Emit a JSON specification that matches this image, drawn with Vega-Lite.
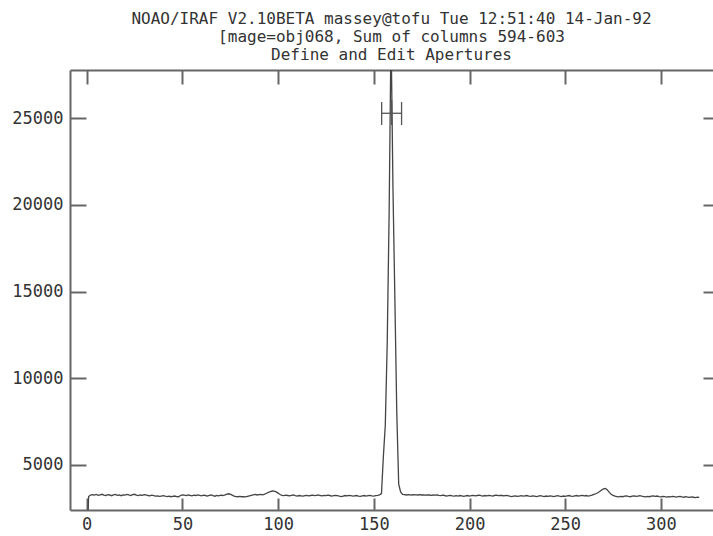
{
  "$schema": "https://vega.github.io/schema/vega-lite/v6.json",
  "width": 643,
  "height": 440,
  "autosize": "none",
  "padding": {"left": 70, "top": 70, "right": 0, "bottom": 26},
  "background": "white",
  "config": {
    "view": {"stroke": null},
    "font": "DejaVu Sans Mono",
    "axis": {
      "grid": false,
      "title": null,
      "domainColor": "#666",
      "domainWidth": 2,
      "tickColor": "#666",
      "tickWidth": 2,
      "labelFont": "DejaVu Sans Mono",
      "labelFontSize": 17,
      "labelColor": "#333",
      "labelOverlap": false,
      "labelFlush": false
    }
  },
  "title": {
    "text": ["NOAO/IRAF V2.10BETA massey@tofu Tue 12:51:40 14-Jan-92", "[mage=obj068, Sum of columns 594-603", "Define and Edit Apertures"],
    "anchor": "middle",
    "frame": "group",
    "font": "DejaVu Sans Mono",
    "fontSize": 16,
    "fontWeight": "normal",
    "color": "#333",
    "lineHeight": 18,
    "offset": 6
  },
  "datasets": {
    "spectrum": [
      {"pixel":0,"counts":0},{"pixel":1,"counts":3180},{"pixel":2,"counts":3270},{"pixel":3,"counts":3290},{"pixel":4,"counts":3260},{"pixel":5,"counts":3300},{"pixel":6,"counts":3250},{"pixel":7,"counts":3280},{"pixel":8,"counts":3310},{"pixel":9,"counts":3260},{"pixel":10,"counts":3240},
      {"pixel":11,"counts":3290},{"pixel":12,"counts":3270},{"pixel":13,"counts":3230},{"pixel":14,"counts":3280},{"pixel":15,"counts":3300},{"pixel":16,"counts":3250},{"pixel":17,"counts":3270},{"pixel":18,"counts":3230},{"pixel":19,"counts":3280},{"pixel":20,"counts":3260},
      {"pixel":21,"counts":3300},{"pixel":22,"counts":3270},{"pixel":23,"counts":3240},{"pixel":24,"counts":3290},{"pixel":25,"counts":3310},{"pixel":26,"counts":3260},{"pixel":27,"counts":3230},{"pixel":28,"counts":3270},{"pixel":29,"counts":3250},{"pixel":30,"counts":3290},
      {"pixel":31,"counts":3280},{"pixel":32,"counts":3240},{"pixel":33,"counts":3220},{"pixel":34,"counts":3260},{"pixel":35,"counts":3230},{"pixel":36,"counts":3200},{"pixel":37,"counts":3220},{"pixel":38,"counts":3190},{"pixel":39,"counts":3210},{"pixel":40,"counts":3230},
      {"pixel":41,"counts":3200},{"pixel":42,"counts":3180},{"pixel":43,"counts":3200},{"pixel":44,"counts":3170},{"pixel":45,"counts":3190},{"pixel":46,"counts":3210},{"pixel":47,"counts":3180},{"pixel":48,"counts":3170},{"pixel":49,"counts":3240},{"pixel":50,"counts":3280},
      {"pixel":51,"counts":3260},{"pixel":52,"counts":3230},{"pixel":53,"counts":3270},{"pixel":54,"counts":3250},{"pixel":55,"counts":3220},{"pixel":56,"counts":3260},{"pixel":57,"counts":3240},{"pixel":58,"counts":3280},{"pixel":59,"counts":3250},{"pixel":60,"counts":3220},
      {"pixel":61,"counts":3260},{"pixel":62,"counts":3240},{"pixel":63,"counts":3210},{"pixel":64,"counts":3250},{"pixel":65,"counts":3270},{"pixel":66,"counts":3230},{"pixel":67,"counts":3200},{"pixel":68,"counts":3240},{"pixel":69,"counts":3220},{"pixel":70,"counts":3260},
      {"pixel":71,"counts":3240},{"pixel":72,"counts":3260},{"pixel":73,"counts":3300},{"pixel":74,"counts":3340},{"pixel":75,"counts":3320},{"pixel":76,"counts":3260},{"pixel":77,"counts":3200},{"pixel":78,"counts":3180},{"pixel":79,"counts":3170},{"pixel":80,"counts":3190},
      {"pixel":81,"counts":3170},{"pixel":82,"counts":3180},{"pixel":83,"counts":3160},{"pixel":84,"counts":3190},{"pixel":85,"counts":3220},{"pixel":86,"counts":3250},{"pixel":87,"counts":3280},{"pixel":88,"counts":3300},{"pixel":89,"counts":3270},{"pixel":90,"counts":3290},
      {"pixel":91,"counts":3310},{"pixel":92,"counts":3280},{"pixel":93,"counts":3320},{"pixel":94,"counts":3370},{"pixel":95,"counts":3420},{"pixel":96,"counts":3470},{"pixel":97,"counts":3500},{"pixel":98,"counts":3490},{"pixel":99,"counts":3450},{"pixel":100,"counts":3380},
      {"pixel":101,"counts":3300},{"pixel":102,"counts":3250},{"pixel":103,"counts":3230},{"pixel":104,"counts":3260},{"pixel":105,"counts":3240},{"pixel":106,"counts":3220},{"pixel":107,"counts":3250},{"pixel":108,"counts":3270},{"pixel":109,"counts":3230},{"pixel":110,"counts":3210},
      {"pixel":111,"counts":3240},{"pixel":112,"counts":3220},{"pixel":113,"counts":3200},{"pixel":114,"counts":3230},{"pixel":115,"counts":3250},{"pixel":116,"counts":3220},{"pixel":117,"counts":3240},{"pixel":118,"counts":3260},{"pixel":119,"counts":3230},{"pixel":120,"counts":3250},
      {"pixel":121,"counts":3270},{"pixel":122,"counts":3240},{"pixel":123,"counts":3220},{"pixel":124,"counts":3250},{"pixel":125,"counts":3230},{"pixel":126,"counts":3260},{"pixel":127,"counts":3240},{"pixel":128,"counts":3210},{"pixel":129,"counts":3230},{"pixel":130,"counts":3250},
      {"pixel":131,"counts":3230},{"pixel":132,"counts":3200},{"pixel":133,"counts":3180},{"pixel":134,"counts":3210},{"pixel":135,"counts":3240},{"pixel":136,"counts":3220},{"pixel":137,"counts":3250},{"pixel":138,"counts":3230},{"pixel":139,"counts":3200},{"pixel":140,"counts":3220},
      {"pixel":141,"counts":3240},{"pixel":142,"counts":3210},{"pixel":143,"counts":3190},{"pixel":144,"counts":3220},{"pixel":145,"counts":3240},{"pixel":146,"counts":3210},{"pixel":147,"counts":3230},{"pixel":148,"counts":3250},{"pixel":149,"counts":3220},{"pixel":150,"counts":3200},
      {"pixel":151,"counts":3230},{"pixel":152,"counts":3250},{"pixel":153,"counts":3280},{"pixel":154,"counts":3350},{"pixel":155,"counts":5500},{"pixel":156,"counts":7300},{"pixel":157,"counts":12000},{"pixel":158,"counts":19500},{"pixel":159,"counts":30000},{"pixel":160,"counts":21000},
      {"pixel":161,"counts":14600},{"pixel":162,"counts":8000},{"pixel":163,"counts":3900},{"pixel":164,"counts":3450},{"pixel":165,"counts":3300},{"pixel":166,"counts":3290},{"pixel":167,"counts":3270},{"pixel":168,"counts":3290},{"pixel":169,"counts":3280},{"pixel":170,"counts":3270},
      {"pixel":171,"counts":3290},{"pixel":172,"counts":3280},{"pixel":173,"counts":3270},{"pixel":174,"counts":3290},{"pixel":175,"counts":3270},{"pixel":176,"counts":3280},{"pixel":177,"counts":3260},{"pixel":178,"counts":3280},{"pixel":179,"counts":3270},{"pixel":180,"counts":3250},
      {"pixel":181,"counts":3270},{"pixel":182,"counts":3260},{"pixel":183,"counts":3280},{"pixel":184,"counts":3250},{"pixel":185,"counts":3230},{"pixel":186,"counts":3260},{"pixel":187,"counts":3240},{"pixel":188,"counts":3210},{"pixel":189,"counts":3230},{"pixel":190,"counts":3250},
      {"pixel":191,"counts":3220},{"pixel":192,"counts":3200},{"pixel":193,"counts":3230},{"pixel":194,"counts":3210},{"pixel":195,"counts":3240},{"pixel":196,"counts":3220},{"pixel":197,"counts":3190},{"pixel":198,"counts":3220},{"pixel":199,"counts":3240},{"pixel":200,"counts":3210},
      {"pixel":201,"counts":3230},{"pixel":202,"counts":3250},{"pixel":203,"counts":3220},{"pixel":204,"counts":3240},{"pixel":205,"counts":3260},{"pixel":206,"counts":3230},{"pixel":207,"counts":3210},{"pixel":208,"counts":3240},{"pixel":209,"counts":3220},{"pixel":210,"counts":3250},
      {"pixel":211,"counts":3230},{"pixel":212,"counts":3210},{"pixel":213,"counts":3240},{"pixel":214,"counts":3260},{"pixel":215,"counts":3230},{"pixel":216,"counts":3250},{"pixel":217,"counts":3240},{"pixel":218,"counts":3220},{"pixel":219,"counts":3250},{"pixel":220,"counts":3230},
      {"pixel":221,"counts":3200},{"pixel":222,"counts":3180},{"pixel":223,"counts":3200},{"pixel":224,"counts":3220},{"pixel":225,"counts":3190},{"pixel":226,"counts":3210},{"pixel":227,"counts":3230},{"pixel":228,"counts":3200},{"pixel":229,"counts":3220},{"pixel":230,"counts":3240},
      {"pixel":231,"counts":3210},{"pixel":232,"counts":3190},{"pixel":233,"counts":3220},{"pixel":234,"counts":3200},{"pixel":235,"counts":3180},{"pixel":236,"counts":3210},{"pixel":237,"counts":3230},{"pixel":238,"counts":3200},{"pixel":239,"counts":3180},{"pixel":240,"counts":3210},
      {"pixel":241,"counts":3190},{"pixel":242,"counts":3220},{"pixel":243,"counts":3200},{"pixel":244,"counts":3180},{"pixel":245,"counts":3210},{"pixel":246,"counts":3230},{"pixel":247,"counts":3200},{"pixel":248,"counts":3180},{"pixel":249,"counts":3210},{"pixel":250,"counts":3190},
      {"pixel":251,"counts":3220},{"pixel":252,"counts":3240},{"pixel":253,"counts":3210},{"pixel":254,"counts":3190},{"pixel":255,"counts":3220},{"pixel":256,"counts":3240},{"pixel":257,"counts":3210},{"pixel":258,"counts":3230},{"pixel":259,"counts":3250},{"pixel":260,"counts":3220},
      {"pixel":261,"counts":3240},{"pixel":262,"counts":3210},{"pixel":263,"counts":3230},{"pixel":264,"counts":3260},{"pixel":265,"counts":3300},{"pixel":266,"counts":3340},{"pixel":267,"counts":3400},{"pixel":268,"counts":3470},{"pixel":269,"counts":3560},{"pixel":270,"counts":3620},
      {"pixel":271,"counts":3650},{"pixel":272,"counts":3560},{"pixel":273,"counts":3420},{"pixel":274,"counts":3310},{"pixel":275,"counts":3250},{"pixel":276,"counts":3200},{"pixel":277,"counts":3180},{"pixel":278,"counts":3160},{"pixel":279,"counts":3190},{"pixel":280,"counts":3170},
      {"pixel":281,"counts":3200},{"pixel":282,"counts":3220},{"pixel":283,"counts":3190},{"pixel":284,"counts":3170},{"pixel":285,"counts":3200},{"pixel":286,"counts":3220},{"pixel":287,"counts":3190},{"pixel":288,"counts":3210},{"pixel":289,"counts":3230},{"pixel":290,"counts":3200},
      {"pixel":291,"counts":3180},{"pixel":292,"counts":3160},{"pixel":293,"counts":3190},{"pixel":294,"counts":3170},{"pixel":295,"counts":3200},{"pixel":296,"counts":3220},{"pixel":297,"counts":3190},{"pixel":298,"counts":3210},{"pixel":299,"counts":3180},{"pixel":300,"counts":3160},
      {"pixel":301,"counts":3190},{"pixel":302,"counts":3170},{"pixel":303,"counts":3150},{"pixel":304,"counts":3180},{"pixel":305,"counts":3160},{"pixel":306,"counts":3190},{"pixel":307,"counts":3170},{"pixel":308,"counts":3150},{"pixel":309,"counts":3170},{"pixel":310,"counts":3190},
      {"pixel":311,"counts":3160},{"pixel":312,"counts":3140},{"pixel":313,"counts":3170},{"pixel":314,"counts":3150},{"pixel":315,"counts":3130},{"pixel":316,"counts":3160},{"pixel":317,"counts":3140},{"pixel":318,"counts":3120},{"pixel":319,"counts":3150},{"pixel":320,"counts":3130}
    ],
    "aperture": [
      {"aperture": 1, "center": 159.3, "lower": 154.1, "upper": 164.5, "level": 25290, "low": 24610, "high": 25940, "top": 26060}
    ]
  },
  "layer": [
    {
      "data": {"name": "spectrum"},
      "mark": {"type": "line", "color": "#444", "strokeWidth": 1.3, "clip": true},
      "encoding": {
        "x": {"field": "pixel", "type": "quantitative",
              "scale": {"domain": [-8.72, 327.2], "nice": false, "zero": false},
              "axis": {"orient": "bottom", "values": [0, 50, 100, 150, 200, 250, 300], "format": "d", "tickSize": -12, "labelPadding": 18}},
        "y": {"field": "counts", "type": "quantitative",
              "scale": {"domain": [2404, 27786], "nice": false, "zero": false},
              "axis": {"orient": "left", "values": [5000, 10000, 15000, 20000, 25000], "format": "d", "tickSize": -16, "labelPadding": 23}}
      }
    },
    {
      "data": {"name": "aperture"},
      "mark": {"type": "rule", "color": "#555", "strokeWidth": 1.3},
      "encoding": {
        "x": {"field": "lower", "type": "quantitative",
              "axis": {"orient": "top", "values": [0, 50, 100, 150, 200, 250, 300], "labels": false, "tickSize": -14}},
        "x2": {"field": "upper"},
        "y": {"field": "level", "type": "quantitative",
              "axis": {"orient": "right", "values": [5000, 10000, 15000, 20000, 25000], "labels": false, "domain": false, "tickSize": -10}}
      }
    },
    {
      "data": {"name": "aperture"},
      "mark": {"type": "rule", "color": "#555", "strokeWidth": 1.3},
      "encoding": {
        "x": {"field": "lower", "type": "quantitative", "axis": null},
        "y": {"field": "low", "type": "quantitative", "axis": null},
        "y2": {"field": "high"}
      }
    },
    {
      "data": {"name": "aperture"},
      "mark": {"type": "rule", "color": "#555", "strokeWidth": 1.3},
      "encoding": {
        "x": {"field": "upper", "type": "quantitative", "axis": null},
        "y": {"field": "low", "type": "quantitative", "axis": null},
        "y2": {"field": "high"}
      }
    },
    {
      "data": {"name": "aperture"},
      "mark": {"type": "rule", "color": "#555", "strokeWidth": 1.3},
      "encoding": {
        "x": {"field": "center", "type": "quantitative", "axis": null},
        "y": {"field": "low", "type": "quantitative", "axis": null},
        "y2": {"field": "top"}
      }
    }
  ],
  "resolve": {"axis": {"x": "independent", "y": "independent"}}
}
